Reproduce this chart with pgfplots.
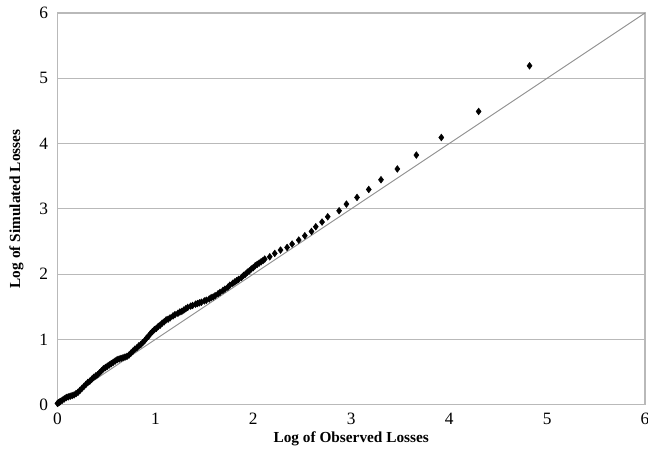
\documentclass[border=0pt]{standalone}
\usepackage{pgfplots}
\pgfplotsset{compat=1.18}
\usepackage{fontspec}
\setmainfont{Liberation Serif}

\definecolor{gridgray}{RGB}{185,185,185}
\definecolor{diaggray}{RGB}{140,140,140}

\begin{document}
\begin{tikzpicture}
\begin{axis}[
  scale only axis,
  width=441pt, height=294pt,
  xmin=0, xmax=6, ymin=0, ymax=6,
  xtick={0,1,2,3,4,5,6}, ytick={0,1,2,3,4,5,6},
  major tick length=0pt,
  ymajorgrids,
  grid style={gridgray, line width=0.9pt},
  axis line style={gridgray, line width=0.9pt},
  tick label style={font=\fontsize{13}{15}\selectfont},
  /pgf/number format/assume math mode=true,
  xticklabel style={yshift=-2.5pt},
  yticklabel style={xshift=-3.5pt},
  xlabel={\textbf{Log of Observed Losses}},
  ylabel={\textbf{Log of Simulated Losses}},
  label style={font=\fontsize{11.5}{13}\selectfont},
  xlabel style={at={(axis description cs:0.5,-0.086)}, anchor=center},
  ylabel style={at={(axis description cs:-0.0697,0.5)}, anchor=center},
  clip=false,
]
% reference line y = x
\addplot[diaggray, line width=0.7pt] coordinates {(0,0) (6,6)};

% simulated vs observed log losses
\addplot[only marks, mark=diamond*, mark size=2.5pt, black] coordinates {
(0.00,0.02) (0.01,0.03) (0.02,0.04) (0.03,0.05) (0.05,0.07) (0.07,0.09)
(0.09,0.11) (0.11,0.12) (0.13,0.13) (0.15,0.14) (0.17,0.15) (0.19,0.17)
(0.21,0.19) (0.23,0.22) (0.25,0.25) (0.27,0.28) (0.29,0.31) (0.31,0.34)
(0.33,0.36) (0.35,0.39) (0.37,0.42) (0.39,0.44) (0.41,0.46) (0.43,0.49)
(0.45,0.52) (0.47,0.55) (0.49,0.57) (0.51,0.59) (0.53,0.61) (0.55,0.63)
(0.57,0.65) (0.59,0.67) (0.61,0.69) (0.63,0.70) (0.65,0.71) (0.67,0.72)
(0.69,0.73) (0.71,0.74) (0.73,0.76) (0.75,0.79) (0.77,0.82) (0.79,0.85)
(0.81,0.87) (0.83,0.90) (0.85,0.92) (0.87,0.95) (0.89,0.98) (0.91,1.02)
(0.93,1.05) (0.95,1.09) (0.97,1.12) (0.99,1.15) (1.01,1.17) (1.03,1.20)
(1.05,1.22) (1.07,1.25) (1.09,1.27) (1.11,1.30) (1.13,1.31) (1.15,1.33)
(1.18,1.36) (1.20,1.38) (1.23,1.40) (1.25,1.42) (1.27,1.43) (1.29,1.45)
(1.31,1.47) (1.33,1.49) (1.36,1.51) (1.38,1.52) (1.41,1.54) (1.43,1.55)
(1.45,1.56) (1.47,1.57) (1.50,1.59) (1.52,1.60) (1.55,1.62) (1.57,1.64)
(1.59,1.65) (1.61,1.67) (1.64,1.70) (1.66,1.72) (1.69,1.75) (1.71,1.77)
(1.74,1.80) (1.76,1.83) (1.79,1.86) (1.81,1.88) (1.83,1.90) (1.85,1.92)
(1.88,1.95) (1.90,1.98) (1.92,2.00) (1.94,2.03) (1.96,2.05) (1.98,2.08)
(2.00,2.10) (2.02,2.13) (2.04,2.15) (2.06,2.17) (2.08,2.19) (2.10,2.21)
(2.117,2.231) (2.168,2.266) (2.219,2.317) (2.278,2.369) (2.345,2.409)
(2.396,2.461) (2.464,2.522) (2.526,2.588) (2.594,2.654) (2.638,2.726)
(2.702,2.798) (2.760,2.879) (2.876,2.971) (2.951,3.073) (3.059,3.175)
(3.179,3.297) (3.304,3.446) (3.471,3.611) (3.665,3.824) (3.920,4.093)
(4.301,4.492) (4.821,5.191)
};

% outer frame of the picture
\coordinate (bbsw) at (rel axis cs:-0.0978,-0.1228);
\coordinate (bbne) at (rel axis cs:1.0051,1.0332);
\end{axis}
\pgfresetboundingbox
\path[use as bounding box] (bbsw) rectangle (bbne);
\end{tikzpicture}
\end{document}
